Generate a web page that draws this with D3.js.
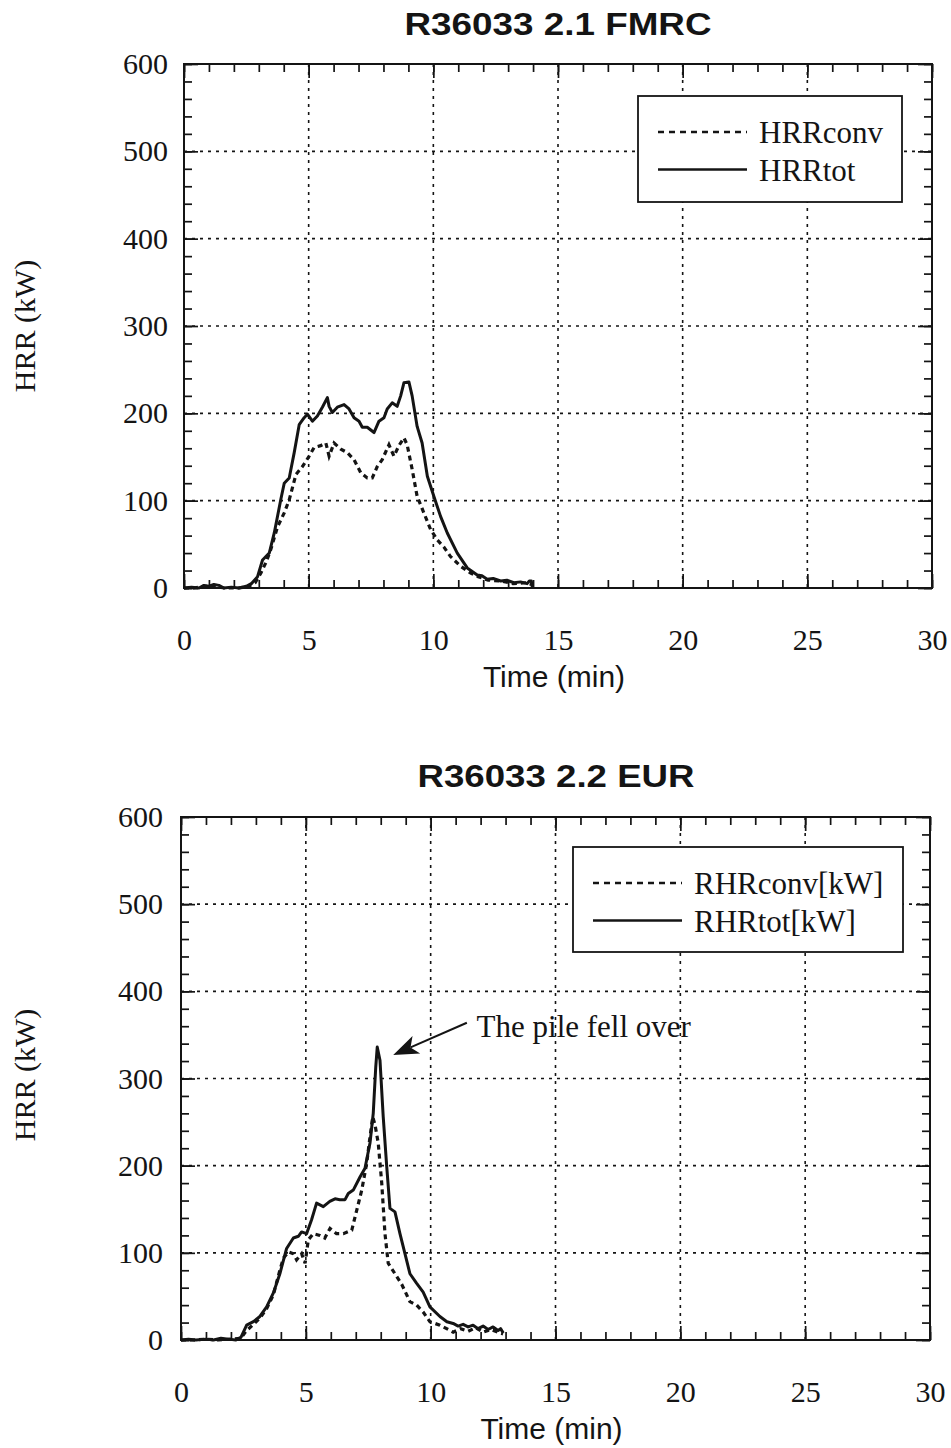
<!DOCTYPE html>
<html><head><meta charset="utf-8">
<script src="https://cdn.jsdelivr.net/npm/d3@7"></script>
<style>body{margin:0;background:#fff}</style>
</head><body>
<svg id="c" width="951" height="1448"></svg>
<script>
// ---------- data ----------
const xMajorTicks = [0, 5, 10, 15, 20, 25, 30];
const yMajorTicks = [0, 100, 200, 300, 400, 500, 600];
const xGridTicks = [5, 10, 15, 20, 25];
const yGridTicks = [100, 200, 300, 400, 500];

const titles = ["R36033 2.1 FMRC", "R36033 2.2 EUR"];
const legend1 = ["HRRconv", "HRRtot"];
const legend2 = ["RHRconv[kW]", "RHRtot[kW]"];
const annotationText = "The pile fell over";
const annotationTip = [8.5, 327];
const annotationTail = [11.45, 364];
const annotationAt = [11.84, 348];

// [time (min), HRR (kW)]
const fmrcTot = [[0,0],[0.3,1],[0.6,0],[0.8,3],[1.0,2],[1.2,4],[1.4,3],[1.6,0],[1.9,1],[2.2,0],[2.5,2],[2.7,5],[2.95,13],[3.15,32],[3.42,40],[3.62,63],[3.88,101],[4.02,120],[4.22,126],[4.42,155],[4.62,187],[4.82,195],[4.95,199],[5.15,191],[5.35,197],[5.55,207],[5.75,218],[5.82,208],[5.95,201],[6.15,207],[6.42,210],[6.62,205],[6.82,195],[7.02,191],[7.15,184],[7.35,184],[7.62,178],[7.82,191],[8.02,195],[8.15,205],[8.35,212],[8.55,208],[8.69,220],[8.82,235],[9.02,236],[9.15,220],[9.35,185],[9.55,166],[9.76,128],[10.02,105],[10.29,82],[10.56,63],[10.96,40],[11.36,23],[11.76,15],[11.95,14],[12.16,10],[12.4,11],[12.7,8],[12.95,9],[13.23,6],[13.5,7],[13.76,5],[13.85,8],[13.93,8],[13.97,1]];
const fmrcConv = [[0,0],[0.4,0],[0.8,2],[1.2,2],[1.6,0],[2.2,0],[2.6,2],[2.85,6],[3.08,17],[3.3,30],[3.48,44],[3.75,70],[4.02,86],[4.22,101],[4.49,130],[4.75,139],[5.02,151],[5.22,161],[5.48,163],[5.69,166],[5.82,151],[6.02,166],[6.29,159],[6.55,155],[6.82,147],[7.09,132],[7.35,126],[7.55,126],[7.75,139],[7.95,147],[8.22,164],[8.42,151],[8.62,163],[8.82,172],[8.95,164],[9.15,136],[9.35,105],[9.62,86],[9.89,67],[10.16,55],[10.42,47],[10.69,36],[11.09,25],[11.5,17],[11.8,13],[12.2,9],[12.7,8],[13.2,5],[13.7,6],[13.95,4]];
const eurTot = [[0,0],[0.3,1],[0.6,0],[1.0,1],[1.3,0],[1.6,2],[1.9,1],[2.2,0],[2.4,3],[2.63,17],[2.9,21],[3.16,27],[3.43,38],[3.7,54],[3.96,76],[4.23,105],[4.5,117],[4.7,119],[4.83,124],[5.03,122],[5.23,138],[5.43,157],[5.7,153],[5.96,159],[6.17,162],[6.36,161],[6.57,161],[6.7,168],[6.9,172],[7.17,187],[7.37,197],[7.57,226],[7.7,260],[7.8,313],[7.86,336],[7.97,321],[8.1,256],[8.24,199],[8.37,151],[8.57,147],[8.77,122],[8.97,99],[9.17,76],[9.44,65],[9.7,55],[9.97,38],[10.37,27],[10.65,21],[10.9,19],[11.1,16],[11.3,18],[11.5,15],[11.7,17],[11.9,13],[12.1,16],[12.3,12],[12.5,15],[12.7,11],[12.8,13],[12.91,8]];
const eurConv = [[0,0],[0.5,0],[1.0,1],[1.5,0],[2.0,1],[2.4,2],[2.6,10],[2.9,18],[3.16,25],[3.43,36],[3.7,52],[3.96,80],[4.1,94],[4.3,101],[4.5,99],[4.63,92],[4.83,99],[4.97,88],[5.1,115],[5.3,122],[5.56,120],[5.76,117],[5.97,128],[6.23,122],[6.5,122],[6.84,126],[7.04,149],[7.24,172],[7.44,203],[7.57,233],[7.68,256],[7.77,247],[7.9,226],[8.04,180],[8.17,122],[8.3,88],[8.57,76],[8.84,64],[9.17,44],[9.44,40],[9.7,32],[9.97,21],[10.37,17],[10.64,13],[10.9,9],[11.2,13],[11.5,10],[11.8,14],[12.1,9],[12.4,12],[12.7,9],[12.9,7]];

// ---------- drawing ----------
const svg = d3.select("#c");
const SERIF = "'Liberation Serif','Times New Roman',serif";
const SANS = "'Liberation Sans',Arial,sans-serif";
const INK = "#141414";

function drawChart(cfg) {
  const {l, r, t, b} = cfg.box;
  const x = d3.scaleLinear([0, 30], [l, r]);
  const y = d3.scaleLinear([0, 600], [b, t]);
  const g = svg.append("g");

  // grid
  g.append("g").selectAll("line").data(xGridTicks).join("line")
    .attr("x1", d => x(d)).attr("x2", d => x(d)).attr("y1", t).attr("y2", b)
    .attr("stroke", INK).attr("stroke-width", 1.6).attr("stroke-dasharray", "3,5");
  g.append("g").selectAll("line").data(yGridTicks).join("line")
    .attr("y1", d => y(d)).attr("y2", d => y(d)).attr("x1", l).attr("x2", r)
    .attr("stroke", INK).attr("stroke-width", 1.6).attr("stroke-dasharray", "3,5");

  const minorX = d3.range(0, 31, 1), minorY = d3.range(0, 601, 20);
  const style = sel => {
    sel.select(".domain").remove();
    sel.selectAll("line").attr("stroke", INK).attr("stroke-width", 1.7);
    sel.attr("font-family", SERIF).attr("font-size", 30);
    sel.selectAll("text").attr("fill", INK);
  };
  g.append("g").attr("transform", `translate(0,${b})`)
    .call(d3.axisBottom(x).tickValues(minorX).tickSize(-8).tickFormat("")).call(style);
  g.append("g").attr("transform", `translate(0,${b})`)
    .call(d3.axisBottom(x).tickValues(xMajorTicks).tickSize(-14).tickPadding(41).tickFormat(d3.format("d"))).call(style);
  g.append("g").attr("transform", `translate(0,${t})`)
    .call(d3.axisTop(x).tickValues(minorX).tickSize(-8).tickFormat("")).call(style);
  g.append("g").attr("transform", `translate(0,${t})`)
    .call(d3.axisTop(x).tickValues(xMajorTicks).tickSize(-14).tickFormat("")).call(style);
  g.append("g").attr("transform", `translate(${l},0)`)
    .call(d3.axisLeft(y).tickValues(minorY).tickSize(-8).tickFormat("")).call(style);
  g.append("g").attr("transform", `translate(${l},0)`)
    .call(d3.axisLeft(y).tickValues(yMajorTicks).tickSize(-14).tickPadding(cfg.yPad).tickFormat(d3.format("d"))).call(style);
  g.append("g").attr("transform", `translate(${r},0)`)
    .call(d3.axisRight(y).tickValues(minorY).tickSize(-8).tickFormat("")).call(style);
  g.append("g").attr("transform", `translate(${r},0)`)
    .call(d3.axisRight(y).tickValues(yMajorTicks).tickSize(-14).tickFormat("")).call(style);

  // frame
  g.append("rect").attr("x", l).attr("y", t).attr("width", r - l).attr("height", b - t)
    .attr("fill", "none").attr("stroke", INK).attr("stroke-width", 2);

  // curves
  const line = d3.line().x(d => x(d[0])).y(d => y(d[1]));
  g.append("path").datum(cfg.conv).attr("d", line).attr("fill", "none")
    .attr("stroke", INK).attr("stroke-width", 3.2).attr("stroke-dasharray", "5,4");
  g.append("path").datum(cfg.tot).attr("d", line).attr("fill", "none")
    .attr("stroke", INK).attr("stroke-width", 3).attr("stroke-linejoin", "round");

  // legend
  const L = cfg.legend;
  g.append("rect").attr("x", L.x).attr("y", L.y).attr("width", L.w).attr("height", L.h)
    .attr("fill", "#fff").attr("stroke", INK).attr("stroke-width", 1.8);
  cfg.labels.forEach((lab, i) => {
    const ly = L.y + 36 + i * 37.5;
    g.append("line").attr("x1", L.x + 20).attr("x2", L.x + 20 + L.sample).attr("y1", ly).attr("y2", ly)
      .attr("stroke", INK).attr("stroke-width", 2.5).attr("stroke-dasharray", i === 0 ? "6,5" : null);
    g.append("text").attr("x", L.x + 32 + L.sample).attr("y", ly + 11).text(lab)
      .attr("font-family", SERIF).attr("font-size", 31).attr("fill", INK);
  });

  // title
  g.append("text").attr("x", cfg.titleX).attr("y", cfg.titleY).text(cfg.title)
    .attr("text-anchor", "middle").attr("font-family", SANS).attr("font-weight", "bold")
    .attr("font-size", 31).attr("fill", INK)
    .attr("textLength", cfg.titleLen).attr("lengthAdjust", "spacingAndGlyphs");

  // axis titles
  g.append("text").attr("x", (l + r) / 2 - 4).attr("y", b + 99).text("Time (min)")
    .attr("text-anchor", "middle").attr("font-family", SANS).attr("font-size", 30).attr("fill", INK);
  g.append("text").attr("transform", `translate(35,${cfg.yLabelY}) rotate(-90)`).text("HRR (kW)")
    .attr("text-anchor", "middle").attr("font-family", SERIF).attr("font-size", 30).attr("fill", INK);

  return {g, x, y};
}

drawChart({
  box: {l: 184, r: 932, t: 64, b: 588}, yPad: 16,
  conv: fmrcConv, tot: fmrcTot, labels: legend1,
  legend: {x: 638, y: 96, w: 264, h: 106, sample: 89},
  title: titles[0], titleX: 558, titleY: 35, titleLen: 307, yLabelY: 326
});

const c2 = drawChart({
  box: {l: 181, r: 930, t: 817, b: 1340}, yPad: 18,
  conv: eurConv, tot: eurTot, labels: legend2,
  legend: {x: 573, y: 847, w: 330, h: 105, sample: 89},
  title: titles[1], titleX: 556, titleY: 787, titleLen: 277, yLabelY: 1075
});

// annotation
{
  const {g, x, y} = c2;
  const tx = x(annotationTip[0]), ty = y(annotationTip[1]);
  const sx = x(annotationTail[0]), sy = y(annotationTail[1]);
  const ang = Math.atan2(ty - sy, tx - sx);
  const len = 27, half = 0.36;
  const p1 = [tx - len * Math.cos(ang - half), ty - len * Math.sin(ang - half)];
  const p2 = [tx - len * Math.cos(ang + half), ty - len * Math.sin(ang + half)];
  const pm = [tx - len * 0.7 * Math.cos(ang), ty - len * 0.7 * Math.sin(ang)];
  g.append("line").attr("x1", sx).attr("y1", sy).attr("x2", pm[0]).attr("y2", pm[1])
    .attr("stroke", INK).attr("stroke-width", 2);
  g.append("path").attr("d", `M${tx},${ty}L${p1[0]},${p1[1]}L${pm[0]},${pm[1]}L${p2[0]},${p2[1]}Z`)
    .attr("fill", INK);
  g.append("text").attr("x", x(annotationAt[0])).attr("y", y(annotationAt[1])).text(annotationText)
    .attr("font-family", SERIF).attr("font-size", 31).attr("fill", INK);
}
</script>
</body></html>
